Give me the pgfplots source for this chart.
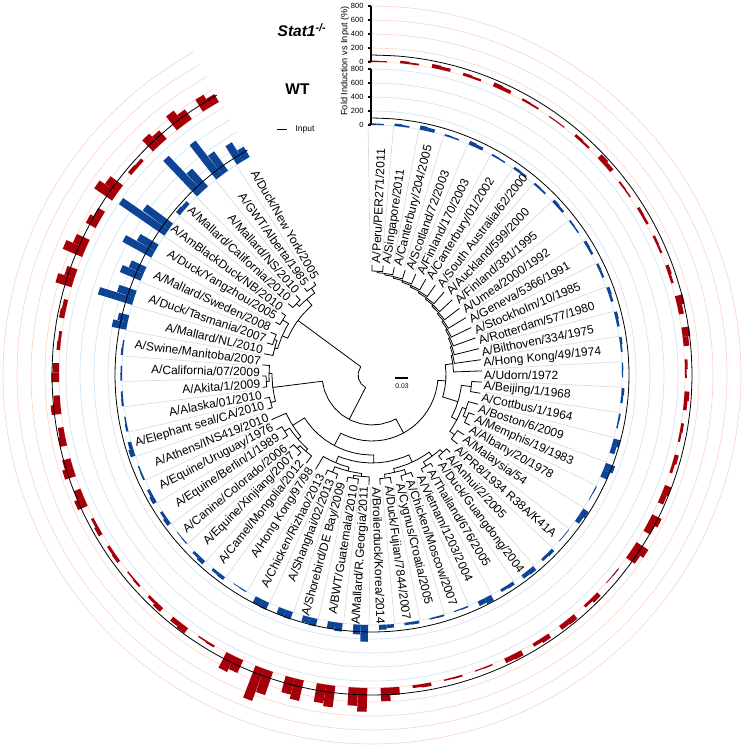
\documentclass[border=0pt]{standalone}
\usepackage{fontspec}
\setmainfont{Liberation Sans}
\usepackage{pgfplots}
\usepackage{pgfplotstable}
\pgfplotsset{compat=1.18}
\usepgfplotslibrary{polar}

\definecolor{wtblue}{RGB}{14,68,150}
\definecolor{koRed}{RGB}{165,0,10}
\definecolor{lblue}{RGB}{205,226,242}
\definecolor{lred}{RGB}{252,210,198}
\definecolor{lgrey}{RGB}{215,215,215}

% angle of each strain (deg), label, WT replicates (%), Stat1-/- replicates (%)
\pgfplotstableread[col sep=comma]{
ang,lab,wa,wb,sa,sb
90.00,A/Peru/PER271/2011,25,20,20,15
84.14,A/Singapore/2011,35,25,35,25
78.29,A/Canterbury/204/2005,60,50,55,45
72.43,A/Scotland/72/2003,25,20,40,30
66.57,A/Finland/170/2003,55,45,60,50
60.71,A/Canterbury/01/2002,25,20,30,25
54.86,A/South Australia/62/2000,35,30,15,15
49.00,A/Auckland/599/2000,30,25,40,30
43.14,A/Finland/381/1995,45,35,80,60
37.29,A/Umea/2000/1992,25,20,25,20
31.43,A/Geneva/5366/1991,40,35,40,35
25.57,A/Stockholm/10/1985,35,30,35,30
19.71,A/Rotterdam/577/1980,45,35,50,35
13.86,A/Bilthoven/334/1975,45,35,110,70
8.00,A/Hong Kong/49/1974,35,25,110,80
2.14,A/Udorn/1972,20,15,40,25
-3.71,A/Beijing/1/1968,40,30,70,50
-9.57,A/Cottbus/1/1964,25,20,40,30
-15.43,A/Boston/6/2009,100,70,60,40
-21.29,A/Memphis/19/1983,140,100,100,80
-27.14,A/Albany/20/1978,15,10,150,110
-33.00,A/Malaysia/54,90,70,200,150
-38.86,A/PR8/1934 R38A/K41A,10,10,15,10
-44.71,A/Anhui/2/2005,50,40,70,40
-50.57,A/Duck/Guangdong/2004,70,60,80,70
-56.43,A/Thailand/676/2005,50,40,70,50
-62.29,A/Vietnam/1203/2004,90,70,80,70
-68.14,A/Chicken/Moscow/2007,20,15,20,15
-74.00,A/Cygnus/Croatia/2005,25,20,25,20
-79.86,A/Duck/Fujian/7844/2007,40,35,50,40
-85.71,A/Broilerduck/Korea/2014,50,70,110,190
-91.57,A/Mallard/R.Georgia/2011,240,140,340,260
-97.43,A/BWT/Guatemala/2010,120,100,310,270
-103.29,A/Shorebird/DE Bay/2009,110,90,300,240
-109.14,A/Shanghai/02/2013,110,100,350,490
-115.00,A/Chicken/Rizhao/2013,110,100,200,250
-120.86,A/Hong Kong/97/98,15,10,30,20
-126.71,A/Camel/Mongolia/2012,50,40,90,70
-132.57,A/Equine/Xinjiang/2007,60,40,70,40
-138.43,A/Canine/Colorado/2006,15,10,30,20
-144.29,A/Equine/Berlin/1/1989,60,40,50,40
-150.14,A/Equine/Uruguay/1976,60,40,60,40
-156.00,A/Athens/INS419/2010,25,20,150,100
-161.86,A/Elephant seal/CA/2010,70,50,160,120
-167.71,A/Alaska/01/2010,30,20,100,80
-173.57,A/Akita/1/2009,30,25,140,90
-179.43,A/California/07/2009,25,20,110,90
-185.29,A/Swine/Manitoba/2007,30,20,50,40
-191.14,A/Mallard/NL/2010,210,150,75,60
-197.00,A/Duck/Tasmania/2007,510,260,240,150
-202.86,A/Mallard/Sweden/2008,320,230,300,200
-208.71,A/Duck/Yangzhou/2005,470,300,160,110
-214.57,A/AmBlackDuck/NB/2010,790,460,310,220
-220.43,A/Mallard/California/2010,70,60,60,50
-226.29,A/Mallard/NS/2010,700,340,220,160
-232.14,A/GWT/Alberta/1985,620,340,250,170
-238.00,A/Duck/New York/2005,310,170,200,130
}\strains

% angles along which the rings run
\pgfplotstableread{
a z
90 0
85 0
80 0
75 0
70 0
65 0
60 0
55 0
50 0
45 0
40 0
35 0
30 0
25 0
20 0
15 0
10 0
5 0
0 0
-5 0
-10 0
-15 0
-20 0
-25 0
-30 0
-35 0
-40 0
-45 0
-50 0
-55 0
-60 0
-65 0
-70 0
-75 0
-80 0
-85 0
-90 0
-95 0
-100 0
-105 0
-110 0
-115 0
-120 0
-125 0
-130 0
-135 0
-140 0
-145 0
-150 0
-155 0
-160 0
-165 0
-170 0
-175 0
-180 0
-185 0
-190 0
-195 0
-200 0
-205 0
-210 0
-215 0
-220 0
-225 0
-230 0
-235 0
-240 0
-241 0
}\arcang

\pgfplotsset{
  tree/.style={black, line width=0.8pt, data cs=polar},
  ring/.style={line width=0.6pt, data cs=polar, smooth},
}
\newcommand{\br}[1]{\addplot[tree] coordinates {#1};}
\newcommand{\labfont}{\fontsize{12}{14}\selectfont}
\newcommand{\tickfont}{\fontsize{7.5}{8}\selectfont}

\begin{document}
\begin{tikzpicture}
\begin{axis}[
  scale only axis, width=745pt, height=750pt,
  xmin=-372, xmax=373, ymin=-375, ymax=375,
  hide axis,
]
\addplot[draw=none] coordinates {(-372,-375) (373,375)};

% faint grid rings
\pgfplotsinvokeforeach{250,264,278,292,306}{
  \addplot[ring, lblue] table[x=a, y expr=#1] {\arcang};
}
\pgfplotsinvokeforeach{313,327,341,355,369}{
  \addplot[ring, lred] table[x=a, y expr=#1] {\arcang};
}

% leaf guide lines (between neighbouring labels)
\addplot[lgrey, line width=0.6pt,
  quiver={u={138*cos(\thisrow{ang}+0.9)}, v={138*sin(\thisrow{ang}+0.9)}}]
  table[x expr={112*cos(\thisrow{ang}+0.9)}, y expr={112*sin(\thisrow{ang}+0.9)}] {\strains};

% tree: H3 ladder
\br{(90,110)(90,104)(84.14,104)(84.14,110)}
\br{(87.07,104)(87.07,102.4)(84.14,102.4)(78.29,102.4)(78.29,110)}
\br{(82.68,102.4)(82.68,100.8)(78.29,100.8)(72.43,100.8)(72.43,110)}
\br{(77.56,100.8)(77.56,99.2)(72.43,99.2)(66.57,99.2)(66.57,110)}
\br{(72.06,99.2)(72.06,97.6)(66.57,97.6)(60.71,97.6)(60.71,110)}
\br{(66.39,97.6)(66.39,96)(60.71,96)(54.86,96)(54.86,110)}
\br{(60.62,96)(60.62,94.4)(54.86,94.4)(49,94.4)(49,110)}
\br{(54.81,94.4)(54.81,92.8)(49,92.8)(43.14,92.8)(43.14,110)}
\br{(48.98,92.8)(48.98,91.2)(43.14,91.2)(37.29,91.2)(37.29,110)}
\br{(43.13,91.2)(43.13,89.6)(37.29,89.6)(31.43,89.6)(31.43,110)}
\br{(37.28,89.6)(37.28,88)(31.43,88)(25.57,88)(25.57,110)}
\br{(31.43,88)(31.43,86.4)(25.57,86.4)(19.71,86.4)(19.71,110)}
\br{(25.57,86.4)(25.57,84.8)(19.71,84.8)(13.86,84.8)(13.86,110)}
\br{(19.71,84.8)(19.71,83.2)(13.86,83.2)(8,83.2)(8,110)}
\br{(13.86,83.2)(13.86,81.6)(8,81.6)(2.14,81.6)(2.14,110)}
% 17-23
\br{(-3.71,110)(-3.71,100)(-9.57,100)(-9.57,110)}
\br{(-21.29,110)(-21.29,104)(-27.14,104)(-27.14,110)}
\br{(-15.43,110)(-15.43,100)(-21.29,100)(-24.21,100)(-24.21,104)}
\br{(-33,110)(-33,102)(-38.86,102)(-38.86,110)}
\br{(-19.82,100)(-19.82,96)(-27.14,96)(-33,96)(-35.93,96)(-35.93,102)}
\br{(-6.64,100)(-6.64,90)(-9.57,90)(-15.43,90)(-21.29,90)(-27.87,90)(-27.87,96)}
\br{(8,81.6)(8,74)(2.14,74)(-3.71,74)(-9.57,74)(-15.43,74)(-17.26,74)(-17.26,90)}
% 24-31
\br{(-44.71,110)(-44.71,105)(-50.57,105)(-50.57,110)}
\br{(-56.43,110)(-56.43,106)(-62.29,106)(-62.29,110)}
\br{(-47.64,105)(-47.64,101)(-50.57,101)(-56.43,101)(-59.36,101)(-59.36,106)}
\br{(-68.14,110)(-68.14,105)(-74,105)(-74,110)}
\br{(-79.86,110)(-79.86,104)(-85.71,104)(-85.71,110)}
\br{(-71.07,105)(-71.07,100)(-74,100)(-79.86,100)(-82.79,100)(-82.79,104)}
\br{(-53.5,101)(-53.5,96)(-56.43,96)(-62.29,96)(-68.14,96)(-74,96)(-76.93,96)(-76.93,100)}
% 32-37
\br{(-97.43,110)(-97.43,105)(-103.29,105)(-103.29,110)}
\br{(-91.57,110)(-91.57,102)(-97.43,102)(-100.36,102)(-100.36,105)}
\br{(-109.14,110)(-109.14,105)(-115,105)(-115,110)}
\br{(-95.97,102)(-95.97,99)(-97.43,99)(-103.29,99)(-109.14,99)(-112.07,99)(-112.07,105)}
\br{(-104.02,99)(-104.02,95)(-109.14,95)(-115,95)(-120.86,95)(-120.86,110)}
\br{(-65.21,96)(-65.21,88)(-68.14,88)(-74,88)(-79.86,88)(-85.71,88)(-91.57,88)(-97.43,88)(-103.29,88)(-109.14,88)(-112.44,88)(-112.44,95)}
% 38-43
\br{(-132.57,110)(-132.57,105)(-138.43,105)(-138.43,110)}
\br{(-126.71,110)(-126.71,101)(-132.57,101)(-135.5,101)(-135.5,105)}
\br{(-144.29,110)(-144.29,104)(-150.14,104)(-150.14,110)}
\br{(-131.1,101)(-131.1,98)(-132.57,98)(-138.43,98)(-144.29,98)(-147.22,98)(-147.22,104)}
\br{(-139.16,98)(-139.16,94)(-144.29,94)(-150.14,94)(-156,94)(-156,110)}
\br{(-88.83,88)(-88.83,80)(-91.57,80)(-97.43,80)(-103.29,80)(-109.14,80)(-115,80)(-120.86,80)(-126.71,80)(-132.57,80)(-138.43,80)(-144.29,80)(-147.58,80)(-147.58,94)}
\br{(-4.63,74)(-4.63,66)(-9.57,66)(-15.43,66)(-21.29,66)(-27.14,66)(-33,66)(-38.86,66)(-44.71,66)(-50.57,66)(-56.43,66)(-62.29,66)(-68.14,66)(-74,66)(-79.86,66)(-85.71,66)(-91.57,66)(-97.43,66)(-103.29,66)(-109.14,66)(-115,66)(-118.2,66)(-118.2,80)}
% 44-48
\br{(-161.86,110)(-161.86,105)(-167.71,105)(-167.71,110)}
\br{(-173.57,110)(-173.57,106)(-179.43,106)(-179.43,110)}
\br{(-176.5,106)(-176.5,103)(-179.43,103)(-185.29,103)(-185.29,110)}
\br{(-164.79,105)(-164.79,100)(-167.71,100)(-173.57,100)(-179.43,100)(-180.9,100)(-180.9,103)}
\br{(-61.42,66)(-61.42,50)(-68.14,50)(-79.86,50)(-91.57,50)(-103.29,50)(-115,50)(-126.71,50)(-138.43,50)(-150.14,50)(-161.86,50)(-172.84,50)(-172.84,100)}
% 49-57
\br{(-232.14,110)(-232.14,106)(-238,106)(-238,110)}
\br{(-220.43,110)(-220.43,104)(-226.29,104)(-226.29,110)}
\br{(-223.36,104)(-223.36,100)(-226.29,100)(-232.14,100)(-235.07,100)(-235.07,106)}
\br{(-197,110)(-197,104)(-202.86,104)(-202.86,110)}
\br{(-191.14,110)(-191.14,101)(-197,101)(-199.93,101)(-199.93,104)}
\br{(-208.71,110)(-208.71,105)(-214.57,105)(-214.57,110)}
\br{(-195.54,101)(-195.54,98)(-197,98)(-202.86,98)(-208.71,98)(-211.64,98)(-211.64,105)}
\br{(-203.59,98)(-203.59,92)(-208.71,92)(-214.57,92)(-220.43,92)(-226.29,92)(-229.22,92)(-229.22,100)}
% root
\br{(-117.13,50)(-117.13,14)(-140,14)(-165,14)(-190,14)(-216.4,14)(-216.4,92)}

% WT bars (two replicates side by side)
\addplot[wtblue, line width=7.5pt,
  quiver={u={\thisrow{wa}*0.07*cos(\thisrow{ang}-0.15)}, v={\thisrow{wa}*0.07*sin(\thisrow{ang}-0.15)},
          every arrow/.append style={line width=7.5pt}}]
  table[x expr={250*cos(\thisrow{ang}-0.15)}, y expr={250*sin(\thisrow{ang}-0.15)}] {\strains};
\addplot[wtblue, line width=7.5pt,
  quiver={u={\thisrow{wb}*0.07*cos(\thisrow{ang}-1.85)}, v={\thisrow{wb}*0.07*sin(\thisrow{ang}-1.85)},
          every arrow/.append style={line width=7.5pt}}]
  table[x expr={250*cos(\thisrow{ang}-1.85)}, y expr={250*sin(\thisrow{ang}-1.85)}] {\strains};
% Stat1-/- bars
\addplot[koRed, line width=9.5pt,
  quiver={u={\thisrow{sa}*0.07*cos(\thisrow{ang}-0.15)}, v={\thisrow{sa}*0.07*sin(\thisrow{ang}-0.15)},
          every arrow/.append style={line width=9.5pt}}]
  table[x expr={313*cos(\thisrow{ang}-0.15)}, y expr={313*sin(\thisrow{ang}-0.15)}] {\strains};
\addplot[koRed, line width=9.5pt,
  quiver={u={\thisrow{sb}*0.07*cos(\thisrow{ang}-1.85)}, v={\thisrow{sb}*0.07*sin(\thisrow{ang}-1.85)},
          every arrow/.append style={line width=9.5pt}}]
  table[x expr={313*cos(\thisrow{ang}-1.85)}, y expr={313*sin(\thisrow{ang}-1.85)}] {\strains};

% input (100 %) rings
\addplot[ring, black, line width=0.8pt] table[x=a, y expr=257] {\arcang};
\addplot[ring, black, line width=0.8pt] table[x=a, y expr=320] {\arcang};

% strain labels
\addplot[draw=none, mark=none, nodes near coords, point meta=explicit symbolic,
  skip coords between index={31}{57},
  visualization depends on={\thisrow{ang} \as \angv},
  every node near coord/.append style={anchor=west, inner sep=0pt, rotate=\angv-2.5, font=\labfont}]
  table[x expr={112*cos(\thisrow{ang}-2)}, y expr={112*sin(\thisrow{ang}-2)}, meta=lab] {\strains};
\addplot[draw=none, mark=none, nodes near coords, point meta=explicit symbolic,
  skip coords between index={0}{31},
  visualization depends on={\thisrow{ang} \as \angv},
  every node near coord/.append style={anchor=east, inner sep=0pt, rotate=\angv+178, font=\labfont}]
  table[x expr={112*cos(\thisrow{ang}-2)}, y expr={112*sin(\thisrow{ang}-2)}, meta=lab] {\strains};

% scale axes at the top
\addplot[black, line width=1.1pt, unbounded coords=jump] coordinates {
  (-1,313)(-1,369)(nan,nan)(-4,313)(-1,313)(nan,nan)(-4,327)(-1,327)(nan,nan)
  (-4,341)(-1,341)(nan,nan)(-4,355)(-1,355)(nan,nan)(-4,369)(-1,369)};
\addplot[black, line width=1.1pt, unbounded coords=jump] coordinates {
  (-1,250)(-1,306)(nan,nan)(-4,250)(-1,250)(nan,nan)(-4,264)(-1,264)(nan,nan)
  (-4,278)(-1,278)(nan,nan)(-4,292)(-1,292)(nan,nan)(-4,306)(-1,306)};
\node[anchor=east, font=\tickfont] at (axis cs:-5,313) {0};
\node[anchor=east, font=\tickfont] at (axis cs:-5,327) {200};
\node[anchor=east, font=\tickfont] at (axis cs:-5,341) {400};
\node[anchor=east, font=\tickfont] at (axis cs:-5,355) {600};
\node[anchor=east, font=\tickfont] at (axis cs:-5,369) {800};
\node[anchor=east, font=\tickfont] at (axis cs:-5,250) {0};
\node[anchor=east, font=\tickfont] at (axis cs:-5,264) {200};
\node[anchor=east, font=\tickfont] at (axis cs:-5,278) {400};
\node[anchor=east, font=\tickfont] at (axis cs:-5,292) {600};
\node[anchor=east, font=\tickfont] at (axis cs:-5,306) {800};
\node[rotate=90, font=\fontsize{9.2}{10}\selectfont] at (axis cs:-27,314) {Fold Induction vs Input (\%)};

% titles and legend
\node[font=\fontsize{15.5}{17}\selectfont\bfseries\itshape] at (axis cs:-70,345) {Stat1\textsuperscript{-/-}};
\node[font=\fontsize{15.5}{17}\selectfont\bfseries] at (axis cs:-74.5,286) {WT};
\addplot[black, line width=0.8pt] coordinates {(-95,246) (-85,246)};
\node[anchor=west, font=\fontsize{8.5}{9}\selectfont] at (axis cs:-80,246) {Input};

% scale bar
\addplot[black, line width=2.5pt] coordinates {(23,-3) (36,-3)};
\node[font=\fontsize{6.8}{7}\selectfont] at (axis cs:30,-11) {0.03};
\end{axis}
\end{tikzpicture}
\end{document}
